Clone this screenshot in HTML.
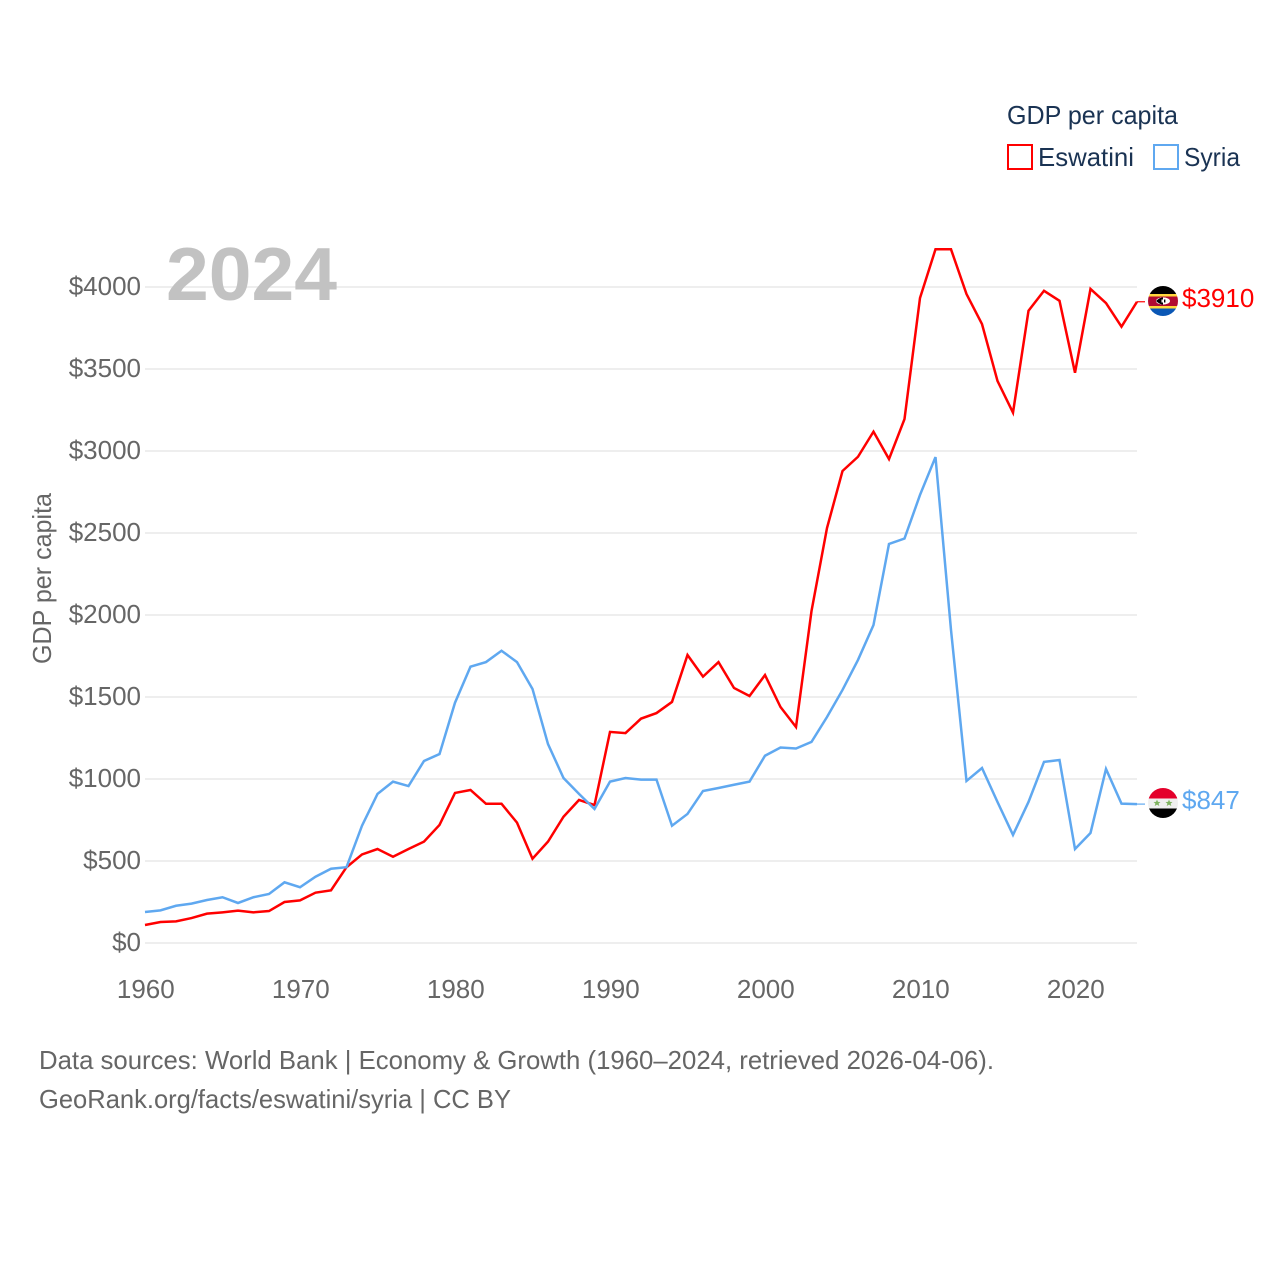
<!DOCTYPE html>
<html lang="en">
<head>
<meta charset="utf-8">
<title>GDP per capita: Eswatini and Syria</title>
<style>
html,body{margin:0;padding:0;background:#fff;width:1280px;height:1280px;overflow:hidden}
svg{display:block}
text{font-family:"Liberation Sans",sans-serif}
</style>
</head>
<body>
<svg id="chart" xmlns="http://www.w3.org/2000/svg" width="1280" height="1280" viewBox="0 0 1280 1280">
  <defs>
    <clipPath id="clip-top"><circle cx="1163" cy="301" r="15"/></clipPath>
    <clipPath id="clip-bottom"><circle cx="1163" cy="803" r="15"/></clipPath>
  </defs>
  <g id="grid"></g>
  <g id="y-ticks"></g>
  <g id="x-ticks"></g>
  <text x="166" y="300" font-size="75" font-weight="bold" fill="#c2c2c2" textLength="171" lengthAdjust="spacingAndGlyphs">2024</text>
  <text transform="translate(51,578.5) rotate(-90)" text-anchor="middle" font-size="26" fill="#666" textLength="171" lengthAdjust="spacingAndGlyphs">GDP per capita</text>
  <g id="series"></g>
  <g>
    <text x="1007" y="124" font-size="26" fill="#1a3353" textLength="171" lengthAdjust="spacingAndGlyphs">GDP per capita</text>
    <rect x="1008" y="145" width="24" height="24" fill="none" stroke="#ff0000" stroke-width="2"/>
    <text x="1038" y="166" font-size="26" fill="#1a3353" textLength="96" lengthAdjust="spacingAndGlyphs">Eswatini</text>
    <rect x="1154" y="145" width="24" height="24" fill="none" stroke="#5fa8f0" stroke-width="2"/>
    <text x="1184" y="166" font-size="26" fill="#1a3353" textLength="56" lengthAdjust="spacingAndGlyphs">Syria</text>
  </g>
  <g clip-path="url(#clip-top)">
    <rect x="1148" y="286" width="30" height="8" fill="#000"/>
    <rect x="1148" y="294" width="30" height="2.5" fill="#ffd83d"/>
    <rect x="1148" y="296.5" width="30" height="9.5" fill="#b10c32"/>
    <rect x="1148" y="306" width="30" height="2.5" fill="#ffd83d"/>
    <rect x="1148" y="308.5" width="30" height="8" fill="#0a57b5"/>
    <ellipse cx="1163" cy="301" rx="7" ry="3.6" fill="#fff"/>
    <path d="M1156 301 Q1160 297.4 1163 297.4 V304.6 Q1160 304.6 1156 301Z" fill="#000"/>
    <rect x="1161.5" y="299.5" width="1.4" height="3" fill="#fff"/>
    <rect x="1164" y="299.5" width="1.4" height="3" fill="#000"/>
  </g>
  <g clip-path="url(#clip-bottom)">
    <rect x="1148" y="788" width="30" height="10.5" fill="#e4002b"/>
    <rect x="1148" y="798.5" width="30" height="10" fill="#efefef"/>
    <rect x="1148" y="808.5" width="30" height="10" fill="#000"/>
    <path d="M1157 799.6 l1 2.3 2.5.1 -1.9 1.6 .7 2.4 -2.3-1.4 -2.3 1.4 .7-2.4 -1.9-1.6 2.5-.1Z" fill="#7eb35f"/>
    <path d="M1169 799.6 l1 2.3 2.5.1 -1.9 1.6 .7 2.4 -2.3-1.4 -2.3 1.4 .7-2.4 -1.9-1.6 2.5-.1Z" fill="#7eb35f"/>
  </g>
  <text x="39" y="1069" font-size="26" fill="#666" textLength="955" lengthAdjust="spacingAndGlyphs">Data sources: World Bank | Economy &amp; Growth (1960–2024, retrieved 2026-04-06).</text>
  <text x="39" y="1108" font-size="26" fill="#666" textLength="472" lengthAdjust="spacingAndGlyphs">GeoRank.org/facts/eswatini/syria | CC BY</text>
</svg>
<script>
const startYear = 1960;
const eswatini = [110,128,132,152,179,187,197,187,195,250,260,307,321,462,540,573,526,573,618,720,915,933,849,849,734,514,618,770,872,841,1287,1280,1368,1402,1470,1756,1624,1713,1555,1506,1634,1439,1317,2024,2530,2878,2965,3118,2951,3195,3933,4230,4230,3957,3774,3427,3234,3855,3977,3916,3477,3988,3902,3758,3910];
const syria = [189,199,227,240,262,279,244,279,299,370,340,404,453,462,715,909,984,957,1110,1152,1465,1685,1713,1782,1713,1549,1213,1006,909,817,984,1006,996,996,715,787,927,945,965,984,1142,1192,1186,1226,1378,1543,1726,1939,2433,2466,2732,2963,1909,988,1067,860,659,860,1104,1116,573,671,1061,850,847];
const yTicks = [0,500,1000,1500,2000,2500,3000,3500,4000];
const xTicks = [1960,1970,1980,1990,2000,2010,2020];

const NS = 'http://www.w3.org/2000/svg';
const xScale = function (year) { return 145 + (year - 1960) * 15.5; };
const yScale = function (value) { return 943 - value * 0.164; };
const make = function (tag, parent) {
  const el = document.createElementNS(NS, tag);
  parent.appendChild(el);
  return el;
};

const grid = document.getElementById('grid');
const yGroup = document.getElementById('y-ticks');
const xGroup = document.getElementById('x-ticks');
const seriesGroup = document.getElementById('series');
const svg = document.getElementById('chart');

yTicks.forEach(function (t) {
  const line = make('line', grid);
  
  
  line.setAttribute('x1', 145);
  line.setAttribute('x2', 1137);
  line.setAttribute('y1', yScale(t));
  line.setAttribute('y2', yScale(t));
  line.setAttribute('stroke', '#eeeeee');
  line.setAttribute('stroke-width', 2);
  const label = make('text', yGroup);
  
  
  label.setAttribute('x', 141);
  label.setAttribute('y', yScale(t) + 8);
  label.setAttribute('text-anchor', 'end');
  label.setAttribute('font-size', 26);
  label.setAttribute('fill', '#666');
  label.textContent = '$' + t;
});

xTicks.forEach(function (t) {
  const label = make('text', xGroup);
  
  
  label.setAttribute('x', xScale(t) + 0.8);
  label.setAttribute('y', 998);
  label.setAttribute('text-anchor', 'middle');
  label.setAttribute('font-size', 26);
  label.setAttribute('fill', '#666');
  label.textContent = t;
});

const toPoints = function (values) {
  return values.map(function (v, i) { return xScale(startYear + i) + ',' + yScale(v); }).join(' ');
};

const eswatiniLine = make('polyline', seriesGroup);


eswatiniLine.setAttribute('points', toPoints(eswatini));
eswatiniLine.setAttribute('fill', 'none');
eswatiniLine.setAttribute('stroke', '#ff0000');
eswatiniLine.setAttribute('stroke-width', 2.5);

const syriaLine = make('polyline', seriesGroup);


syriaLine.setAttribute('points', toPoints(syria));
syriaLine.setAttribute('fill', 'none');
syriaLine.setAttribute('stroke', '#5fa8f0');
syriaLine.setAttribute('stroke-width', 2.5);

const lastEswatini = eswatini[eswatini.length - 1];
const lastSyria = syria[syria.length - 1];

const eswatiniConnector = make('line', seriesGroup);


eswatiniConnector.setAttribute('x1', xScale(2024));
eswatiniConnector.setAttribute('x2', 1145);
eswatiniConnector.setAttribute('y1', yScale(lastEswatini));
eswatiniConnector.setAttribute('y2', yScale(lastEswatini));
eswatiniConnector.setAttribute('stroke', '#ff0000');
eswatiniConnector.setAttribute('stroke-width', 1.2);

const syriaConnector = make('line', seriesGroup);


syriaConnector.setAttribute('x1', xScale(2024));
syriaConnector.setAttribute('x2', 1145);
syriaConnector.setAttribute('y1', yScale(lastSyria));
syriaConnector.setAttribute('y2', yScale(lastSyria));
syriaConnector.setAttribute('stroke', '#5fa8f0');
syriaConnector.setAttribute('stroke-width', 1.2);

const eswatiniValue = make('text', svg);


eswatiniValue.setAttribute('x', 1182);
eswatiniValue.setAttribute('y', 307);
eswatiniValue.setAttribute('font-size', 26);
eswatiniValue.setAttribute('fill', '#ff0000');
eswatiniValue.textContent = '$' + lastEswatini;

const syriaValue = make('text', svg);


syriaValue.setAttribute('x', 1182);
syriaValue.setAttribute('y', 809);
syriaValue.setAttribute('font-size', 26);
syriaValue.setAttribute('fill', '#5fa8f0');
syriaValue.textContent = '$' + lastSyria;
</script>
</body>
</html>
